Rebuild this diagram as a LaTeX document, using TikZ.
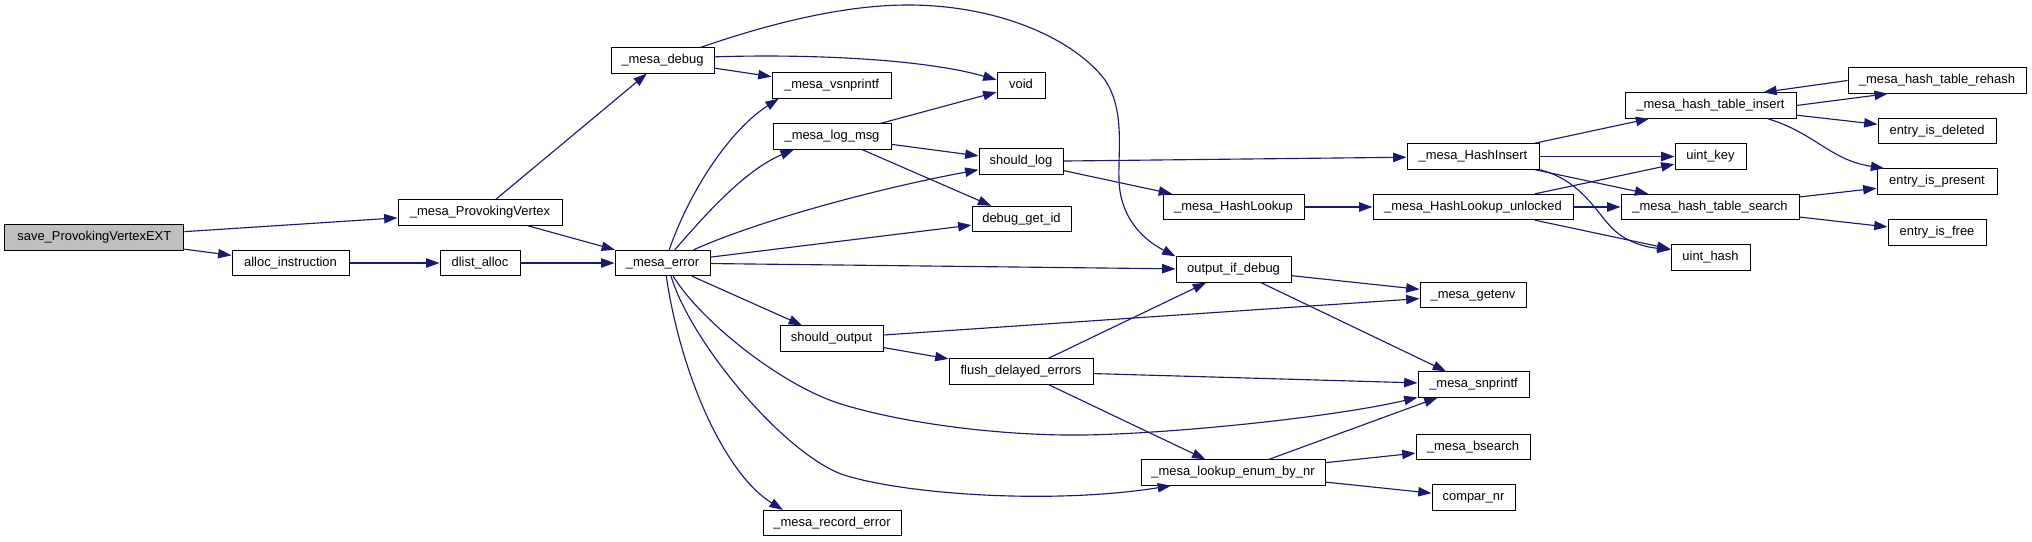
\documentclass[tikz,border=0pt]{standalone}
\usepackage{fontspec}
\setmainfont{Liberation Sans}
\usetikzlibrary{arrows.meta,calc}
\definecolor{edgecol}{HTML}{191970}
\begin{document}
\begin{tikzpicture}[x=0.75pt,y=-0.75pt,
  fn/.style={draw=black, line width=0.75pt, fill=white, inner sep=0pt,
    minimum height=19pt, font=\fontsize{9.7}{11}\selectfont,
    text height=7.2pt, text depth=2pt},
  bw/.style={minimum width=#1*0.75pt},
  call/.style={draw=edgecol, line width=0.85pt, -{Triangle[length=10pt,width=7pt]}}]
\useasboundingbox (0,0) rectangle (2032,542);
% nodes
\node[fn,bw=179,fill=gray!50] (save) at (94.3,237.5) {save\_ProvokingVertexEXT};
\node[fn,bw=164] (pv) at (480,212.5) {\_mesa\_ProvokingVertex};
\node[fn,bw=117] (alloc) at (290.5,263) {alloc\_instruction};
\node[fn,bw=80] (dlist) at (480,263) {dlist\_alloc};
\node[fn,bw=95] (err) at (662.5,263) {\_mesa\_error};
\node[fn,bw=103] (dbg) at (662.5,60.5) {\_mesa\_debug};
\node[fn,bw=119] (vsn) at (831.5,85.5) {\_mesa\_vsnprintf};
\node[fn,bw=118] (logmsg) at (832,136.5) {\_mesa\_log\_msg};
\node[fn,bw=103] (sout) at (831.5,338.5) {should\_output};
\node[fn,bw=138] (rec) at (832,523) {\_mesa\_record\_error};
\node[fn,bw=48] (void) at (1021,85.5) {void};
\node[fn,bw=84] (slog) at (1021,161.5) {should\_log};
\node[fn,bw=99] (dbgid) at (1021.5,219) {debug\_get\_id};
\node[fn,bw=144] (flush) at (1021,371.5) {flush\_delayed\_errors};
\node[fn,bw=141] (hlook) at (1233.5,207) {\_mesa\_HashLookup};
\node[fn,bw=115] (oid) at (1233.5,269.5) {output\_if\_debug};
\node[fn,bw=184] (lookup) at (1233,472.5) {\_mesa\_lookup\_enum\_by\_nr};
\node[fn,bw=132] (hins) at (1473,156.5) {\_mesa\_HashInsert};
\node[fn,bw=200] (hlu) at (1473,207) {\_mesa\_HashLookup\_unlocked};
\node[fn,bw=106] (getenv) at (1473,295) {\_mesa\_getenv};
\node[fn,bw=111] (snp) at (1473.5,384.5) {\_mesa\_snprintf};
\node[fn,bw=114] (bsearch) at (1473,447) {\_mesa\_bsearch};
\node[fn,bw=83] (compar) at (1473.5,497.5) {compar\_nr};
\node[fn,bw=171] (hti) at (1710.5,105.5) {\_mesa\_hash\_table\_insert};
\node[fn,bw=71] (ukey) at (1710.5,156.5) {uint\_key};
\node[fn,bw=178] (hts) at (1710,207) {\_mesa\_hash\_table\_search};
\node[fn,bw=79] (uhash) at (1710.5,257.5) {uint\_hash};
\node[fn,bw=178] (rehash) at (1937,80.5) {\_mesa\_hash\_table\_rehash};
\node[fn,bw=118] (deleted) at (1937,131) {entry\_is\_deleted};
\node[fn,bw=120] (present) at (1937,181.5) {entry\_is\_present};
\node[fn,bw=98] (efree) at (1937,232.5) {entry\_is\_free};
% edges
\draw[call] (save) -- (pv);
\draw[call] (save) -- (alloc);
\draw[call] (alloc) -- (dlist);
\draw[call] (dlist) -- (err);
\draw[call] (pv) -- (dbg);
\draw[call] (pv) -- (err);
\draw[call] (dbg) -- (vsn);
\draw[call] (dbg.4) .. controls (800,54) and (920,58) .. (void.167);
\draw[call] (dbg.19) .. controls (780,20) and (850,5) .. (908,5)
  .. controls (1000,5) and (1075,40) .. (1105,80)
  .. controls (1125,110) and (1118,150) .. (1119,180)
  .. controls (1120,215) and (1140,238) .. (oid.north west);
\draw[call] (err.63) .. controls (690,190) and (730,130) .. (vsn.194);
\draw[call] (err.47) .. controls (705,215) and (745,170) .. (logmsg.199);
\draw[call] (err.23) .. controls (760,220) and (880,188) .. (slog.191);
\draw[call] (err) -- (dbgid);
\draw[call] (err) -- (oid);
\draw[call] (err) -- (sout);
\draw[call] (err.-51) .. controls (700,320) and (780,385) .. (841,404)
  .. controls (902,423) and (1000,436) .. (1083,435)
  .. controls (1166,434) and (1330,418) .. (snp.193);
\draw[call] (err.-57) .. controls (690,340) and (780,450) .. (841,474)
  .. controls (900,494) and (1050,505) .. (lookup.192);
\draw[call] (err.-74) .. controls (681,376) and (725,474) .. (rec.165);
\draw[call] (logmsg) -- (void);
\draw[call] (logmsg) -- (slog);
\draw[call] (logmsg) -- (dbgid);
\draw[call] (sout) -- (getenv);
\draw[call] (sout) -- (flush);
\draw[call] (flush) -- (oid);
\draw[call] (flush) -- (snp);
\draw[call] (flush) -- (lookup);
\draw[call] (oid) -- (getenv);
\draw[call] (oid) -- (snp);
\draw[call] (lookup) -- (snp);
\draw[call] (lookup) -- (bsearch);
\draw[call] (lookup) -- (compar);
\draw[call] (slog) -- (hins);
\draw[call] (slog) -- (hlook);
\draw[call] (hlook) -- (hlu);
\draw[call] (hins) -- (hti);
\draw[call] (hins) -- (ukey);
\draw[call] (hins) -- (hts);
\draw[call] (hins.south east) .. controls (1580,180) and (1595,210) .. (1611,227)
  .. controls (1625,242) and (1645,247) .. (uhash.169);
\draw[call] (hlu) -- (ukey);
\draw[call] (hlu) -- (hts);
\draw[call] (hlu) -- (uhash);
\draw[call] (hti.east) -- (rehash.195);
\draw[call] (rehash.west) -- (hti.14);
\draw[call] (hti) -- (deleted);
\draw[call] (hti.-13) .. controls (1815,133) and (1830,160) .. (present.166);
\draw[call] (hts) -- (present);
\draw[call] (hts) -- (efree);
\end{tikzpicture}
\end{document}
